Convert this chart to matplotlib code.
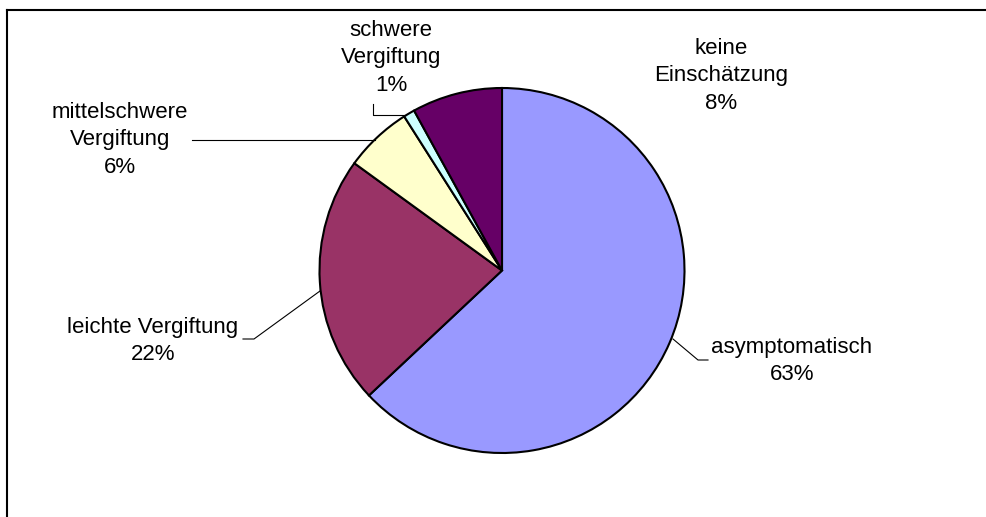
import matplotlib.pyplot as plt
from matplotlib.lines import Line2D

categories = ['asymptomatisch', 'leichte Vergiftung', 'mittelschwere\nVergiftung',
              'schwere\nVergiftung', 'keine\nEinschätzung']
shares = [63, 22, 6, 1, 8]
colors = ['#9999FF', '#993366', '#FFFFCC', '#CCFFFF', '#660066']

W, H = 987, 517
fig = plt.figure(figsize=(W / 100, H / 100), dpi=100)
ax = fig.add_axes([0, 0, 1, 1])

# pixel-like coordinates, y measured from the top
def py(y):
    return H - y

cx, cy, r = 502, 270.5, 182.5
ax.pie(shares, colors=colors, startangle=90, counterclock=False,
       center=(cx, py(cy)), radius=r,
       wedgeprops=dict(edgecolor='black', linewidth=1.5))
ax.set_xlim(0, W)
ax.set_ylim(0, H)
ax.axis('off')

# outer chart border (only top and left edges fall inside the image)
ax.add_line(Line2D([7, W + 5], [py(10), py(10)], color='black', lw=1.5))
ax.add_line(Line2D([7, 7], [py(10), -5], color='black', lw=1.5))

# label positions (centre of text block) and leader lines
label_pos = [(792, 361), (153, 341), (120, 140), (391, 58), (721, 76)]
leaders = [
    [(673, 339), (698, 360), (708, 360)],
    [(320, 291), (254, 339), (243, 339)],
    [(192, 140), (375, 140)],
    [(373, 104), (373, 115), (406, 115)],
    None,
]

for name, val, (x, y), lead in zip(categories, shares, label_pos, leaders):
    ax.text(x, py(y), f'{name}\n{val}%', ha='center', va='center',
            family='Liberation Sans', fontsize=16, linespacing=1.43,
            color='black')
    if lead:
        xs = [p[0] for p in lead]
        ys = [py(p[1]) for p in lead]
        ax.add_line(Line2D(xs, ys, color='black', lw=0.8))

fig.savefig('out.png', dpi=100)
